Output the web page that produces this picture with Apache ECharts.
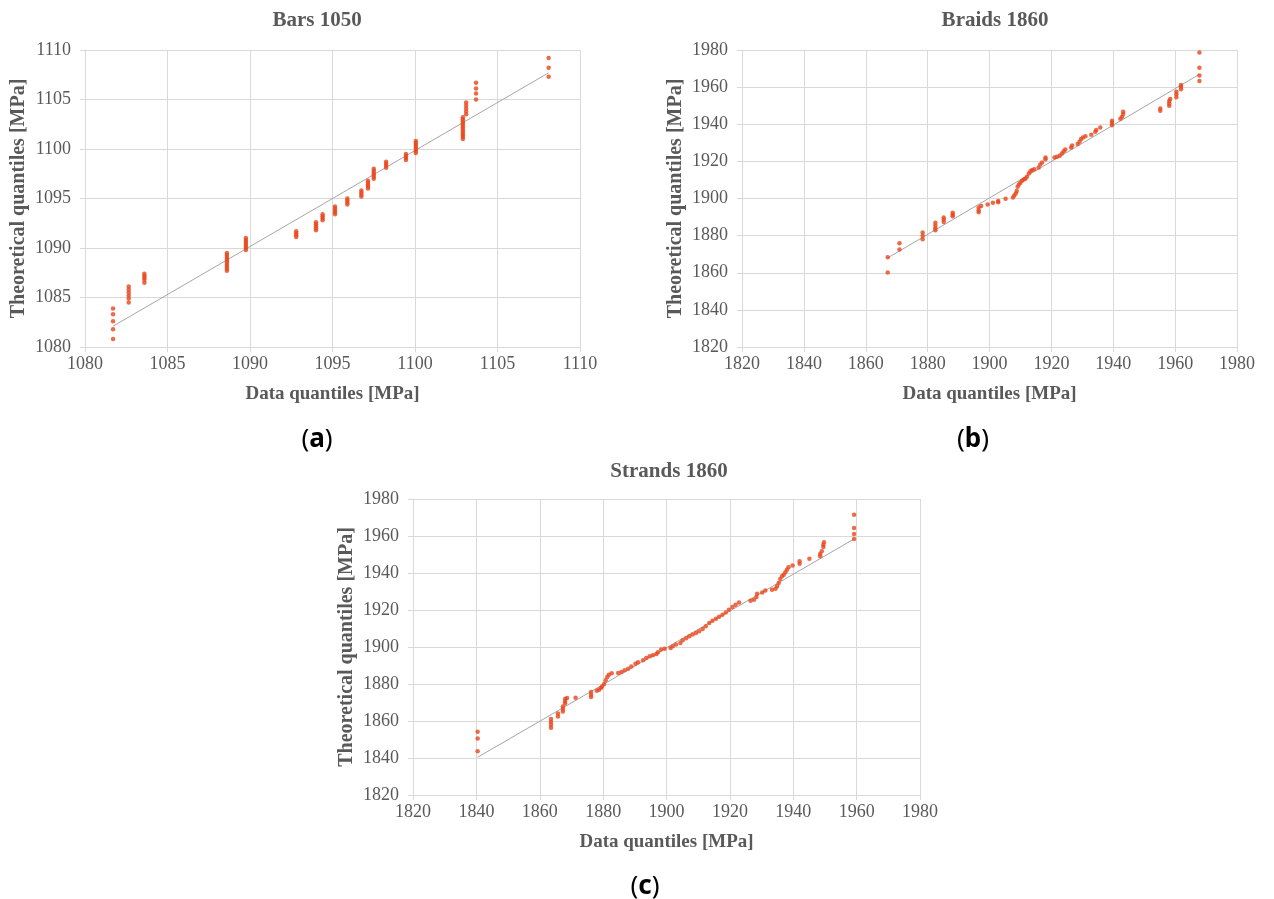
<!DOCTYPE html>
<html>
<head>
<meta charset="utf-8">
<script src="https://cdn.jsdelivr.net/npm/echarts@6/dist/echarts.min.js"></script>
<style>
  html, body { margin: 0; padding: 0; background: #ffffff; }
  #chart { width: 1274px; height: 899px; }
</style>
</head>
<body>
<div id="chart"></div>
<script>
// ---------- DATA ----------
const chartTitles = ['Bars 1050', 'Braids 1860', 'Strands 1860'];
const captionLetters = ['a', 'b', 'c'];
const xAxisName = 'Data quantiles [MPa]';
const yAxisName = 'Theoretical quantiles [MPa]';

const barsRange = [1080, 1110, 5];
const braidsRange = [1820, 1980, 20];
const strandsRange = [1820, 1980, 20];

// Bars 1050: [data quantile, theoretical quantile]
const barsPoints = [
  [1081.7,1083.9],[1081.7,1083.3],[1081.7,1082.6],[1081.7,1081.8],[1081.7,1080.8],
  [1082.65,1086.1],[1082.65,1085.8],[1082.65,1085.5],[1082.65,1085.2],[1082.65,1084.9],[1082.65,1084.5],
  [1083.6,1087.4],[1083.6,1087.2],[1083.6,1087.0],[1083.6,1086.8],[1083.6,1086.5],
  [1088.6,1089.5],[1088.6,1089.3],[1088.6,1089.1],[1088.6,1088.9],[1088.6,1088.7],[1088.6,1088.5],[1088.6,1088.3],[1088.6,1088.1],[1088.6,1087.9],[1088.6,1087.7],
  [1089.75,1091.0],[1089.75,1090.8],[1089.75,1090.6],[1089.75,1090.4],[1089.75,1090.2],[1089.75,1090.0],[1089.75,1089.8],
  [1092.8,1091.7],[1092.8,1091.5],[1092.8,1091.3],[1092.8,1091.1],
  [1094.0,1092.6],[1094.0,1092.4],[1094.0,1092.2],[1094.0,1092.0],[1094.0,1091.8],
  [1094.4,1093.4],[1094.4,1093.2],[1094.4,1093.0],[1094.4,1092.8],
  [1095.15,1094.2],[1095.15,1094.0],[1095.15,1093.8],[1095.15,1093.6],[1095.15,1093.4],
  [1095.9,1095.0],[1095.9,1094.8],[1095.9,1094.6],[1095.9,1094.4],
  [1096.75,1095.8],[1096.75,1095.6],[1096.75,1095.4],[1096.75,1095.2],
  [1097.15,1096.8],[1097.15,1096.6],[1097.15,1096.4],[1097.15,1096.2],[1097.15,1096.0],
  [1097.5,1098.0],[1097.5,1097.8],[1097.5,1097.6],[1097.5,1097.4],[1097.5,1097.2],[1097.5,1097.0],
  [1098.25,1098.7],[1098.25,1098.5],[1098.25,1098.3],[1098.25,1098.1],
  [1099.45,1099.5],[1099.45,1099.3],[1099.45,1099.1],[1099.45,1098.9],
  [1100.05,1100.8],[1100.05,1100.6],[1100.05,1100.4],[1100.05,1100.2],[1100.05,1100.0],[1100.05,1099.8],[1100.05,1099.6],
  [1102.9,1103.2],[1102.9,1103.0],[1102.9,1102.8],[1102.9,1102.6],[1102.9,1102.4],[1102.9,1102.2],[1102.9,1102.0],[1102.9,1101.8],[1102.9,1101.6],[1102.9,1101.4],[1102.9,1101.2],[1102.9,1101.0],
  [1103.1,1104.7],[1103.1,1104.4],[1103.1,1104.1],[1103.1,1103.8],[1103.1,1103.5],
  [1103.7,1106.7],[1103.7,1106.1],[1103.7,1105.6],[1103.7,1105.0],
  [1108.1,1109.2],[1108.1,1108.2],[1108.1,1107.3]
];
const barsLine = [[1081.7,1082.1],[1108.1,1107.7]];

// Braids 1860
const braidsPoints = [
  [1867.1,1868.4],[1867.1,1860.1],
  [1870.9,1875.9],[1870.9,1872.5],
  [1878.4,1881.7],[1878.4,1879.9],[1878.4,1878.1],
  [1882.5,1886.9],[1882.5,1885.4],[1882.5,1884.0],[1882.5,1882.9],
  [1885.2,1889.8],[1885.2,1888.7],[1885.2,1887.4],
  [1888.1,1892.3],[1888.1,1891.2],[1888.1,1890.5],
  [1896.5,1895.1],[1896.5,1893.7],[1896.5,1892.6],[1897.3,1896.0],
  [1899.4,1896.8],[1901.1,1897.7],[1902.8,1898.7],[1902.8,1898.0],[1905.2,1899.8],
  [1907.6,1900.5],[1908.0,1901.6],[1908.5,1902.7],[1908.8,1904.1],[1909.1,1906.3],[1909.5,1907.6],
  [1910.0,1908.5],[1910.5,1909.5],[1911.1,1910.2],[1911.6,1910.6],[1912.1,1911.7],[1912.7,1913.5],
  [1913.2,1914.7],[1913.75,1915.3],[1914.5,1915.8],[1915.9,1916.7],[1916.4,1918.3],[1917.0,1919.4],
  [1918.1,1921.2],[1918.1,1922.1],
  [1921.0,1922.1],[1921.8,1922.5],[1922.7,1923.0],[1923.4,1924.3],[1924.0,1925.5],[1924.5,1926.4],
  [1926.4,1927.5],[1926.7,1928.6],
  [1928.5,1929.3],[1929.1,1930.6],[1929.6,1932.0],[1930.2,1932.9],[1931.0,1933.6],
  [1932.9,1934.3],[1934.2,1936.0],[1934.5,1936.9],[1935.8,1938.3],
  [1939.6,1939.4],[1939.6,1940.8],[1939.6,1941.9],
  [1942.3,1943.0],[1942.85,1944.0],[1943.2,1945.5],[1943.2,1946.7],
  [1955.2,1947.3],[1955.2,1948.5],
  [1958.1,1950.0],[1958.1,1951.2],[1958.1,1952.5],[1958.4,1953.6],
  [1960.4,1954.5],[1960.4,1956.1],[1960.4,1957.5],
  [1961.9,1958.8],[1961.9,1960.2],[1961.9,1961.1],
  [1967.85,1978.7],[1967.85,1970.5],[1967.85,1966.3],[1967.85,1963.3]
];
const braidsLine = [[1867.1,1868.0],[1967.85,1966.9]];

// Strands 1860
const strandsPoints = [
  [1840.4,1854.2],[1840.4,1850.6],[1840.4,1843.6],
  [1863.55,1861.1],[1863.55,1859.5],[1863.55,1858.0],[1863.55,1856.4],
  [1865.75,1864.0],[1865.75,1862.5],
  [1867.3,1867.9],[1867.3,1866.5],[1867.3,1865.2],
  [1868.0,1871.9],[1868.0,1870.6],[1868.0,1869.4],[1868.6,1872.4],
  [1871.3,1872.6],
  [1876.2,1875.7],[1876.2,1874.2],[1876.2,1873.0],
  [1878.0,1876.4],[1878.7,1876.9],[1879.3,1877.8],[1879.7,1878.7],[1880.3,1880.0],[1880.8,1882.0],
  [1881.3,1883.8],[1881.8,1885.0],[1882.7,1885.8],
  [1884.75,1885.9],[1885.8,1886.5],[1886.8,1887.4],[1887.9,1888.3],[1888.9,1889.5],[1890.2,1891.0],
  [1891.0,1891.7],[1892.6,1892.8],[1893.6,1894.1],[1894.7,1895.0],[1895.7,1895.5],[1896.8,1896.2],
  [1897.3,1897.1],[1898.3,1898.6],[1899.4,1899.1],[1901.3,1899.5],[1902.0,1900.4],[1903.0,1901.3],
  [1904.4,1902.2],[1905.1,1903.6],[1906.2,1904.7],[1907.2,1905.8],[1908.25,1906.7],[1909.3,1907.6],
  [1910.3,1908.5],[1911.4,1909.7],[1912.4,1911.2],[1913.5,1913.0],[1914.5,1914.2],[1915.6,1915.3],
  [1916.6,1916.4],[1917.65,1917.5],[1918.7,1918.7],[1919.7,1920.2],[1920.8,1921.6],[1921.8,1922.9],
  [1922.9,1924.1],
  [1926.5,1925.0],[1927.6,1925.6],[1928.4,1927.0],[1928.6,1928.8],
  [1930.2,1929.5],[1931.2,1930.5],
  [1933.3,1931.0],[1934.4,1931.5],[1934.9,1932.8],[1935.4,1934.6],[1935.9,1936.8],[1936.45,1938.2],
  [1937.0,1939.1],[1937.5,1940.4],[1938.0,1941.8],[1938.5,1943.1],
  [1939.8,1944.0],[1942.0,1946.3],[1942.0,1945.0],[1945.1,1947.7],
  [1948.5,1949.0],[1948.5,1950.3],[1949.0,1951.7],[1949.5,1954.1],[1949.5,1955.3],[1949.7,1956.6],
  [1959.2,1971.5],[1959.2,1964.3],[1959.2,1961.1],[1959.2,1958.4]
];
const strandsLine = [[1840.4,1840.4],[1959.2,1958.4]];

// ---------- STYLE ----------
const gridColor = '#d9d9d9';
const textColor = '#595959';
const markerColor = '#e8461b';
const lineColor = '#a6a6a6';
const serif = 'Liberation Serif';

const grids = [
  { left: 85, width: 495, top: 50, height: 297 },
  { left: 742, width: 495, top: 50, height: 297 },
  { left: 413, width: 507, top: 499, height: 296 }
];
const ranges = [barsRange, braidsRange, strandsRange];
const pointSets = [barsPoints, braidsPoints, strandsPoints];
const lineSets = [barsLine, braidsLine, strandsLine];

function axis(idx, isX) {
  const r = ranges[idx];
  return {
    type: 'value',
    gridIndex: idx,
    min: r[0], max: r[1], interval: r[2],
    name: isX ? xAxisName : yAxisName,
    nameLocation: 'middle',
    nameGap: isX ? 38 : 56,
    nameTextStyle: { fontFamily: serif, fontWeight: 'bold', fontSize: isX ? 19 : 20, color: textColor },
    axisLine: { show: true, onZero: false, lineStyle: { color: gridColor, width: 1 } },
    axisTick: { show: true, length: 5, lineStyle: { color: gridColor } },
    axisLabel: {
      fontFamily: serif, fontSize: 18, color: textColor, margin: isX ? 8 : 14,
      formatter: function (v) { return String(v); }
    },
    splitLine: { show: true, lineStyle: { color: gridColor, width: 1 } }
  };
}

const series = [];
for (let i = 0; i < 3; i++) {
  series.push({
    type: 'line', xAxisIndex: i, yAxisIndex: i,
    data: lineSets[i], showSymbol: false, silent: true,
    lineStyle: { color: lineColor, width: 1 }, z: 2
  });
  series.push({
    type: 'scatter', xAxisIndex: i, yAxisIndex: i,
    data: pointSets[i], symbol: 'circle', symbolSize: 4.5,
    itemStyle: { color: markerColor }, z: 3
  });
}

const titlePos = [[312, 5], [990, 5], [664, 456]];
const captionPos = [[312, 422], [968, 422], [640, 869]];
const titles = [];
for (let i = 0; i < 3; i++) {
  titles.push({
    text: chartTitles[i], left: titlePos[i][0], top: titlePos[i][1], textAlign: 'center',
    textStyle: { fontFamily: serif, fontWeight: 'bold', fontSize: 21, color: textColor }
  });
  titles.push({
    text: '{p|(}{b|' + captionLetters[i] + '}{p|)}',
    left: captionPos[i][0], top: captionPos[i][1], textAlign: 'center',
    textStyle: {
      rich: {
        p: { fontFamily: 'Noto Sans', fontSize: 26, color: '#000', fontWeight: 'normal' },
        b: { fontFamily: 'Noto Sans', fontSize: 26, color: '#000', fontWeight: 'bold' }
      }
    }
  });
}

const chart = echarts.init(document.getElementById('chart'), null, { renderer: 'canvas' });
chart.setOption({
  backgroundColor: '#ffffff',
  animation: false,
  title: titles,
  grid: grids,
  xAxis: [axis(0, true), axis(1, true), axis(2, true)],
  yAxis: [axis(0, false), axis(1, false), axis(2, false)],
  series: series
});
</script>
</body>
</html>
